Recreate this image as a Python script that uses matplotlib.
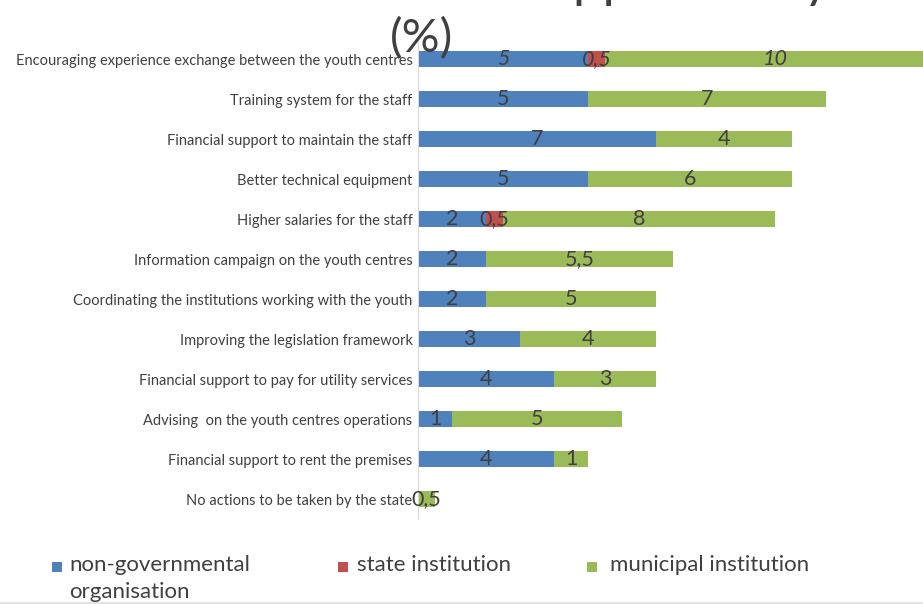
import matplotlib
matplotlib.use("Agg")
import matplotlib.pyplot as plt
from matplotlib.patches import Rectangle

plt.rcParams["font.family"] = ["Lato", "DejaVu Sans"]

categories = [
    "Encouraging experience exchange between the youth centres",
    "Training system for the staff",
    "Financial support to maintain the staff",
    "Better technical equipment",
    "Higher salaries for the staff",
    "Information campaign on the youth centres",
    "Coordinating the institutions working with the youth",
    "Improving the legislation framework",
    "Financial support to pay for utility services",
    "Advising  on the youth centres operations",
    "Financial support to rent the premises",
    "No actions to be taken by the state",
]
ngo = [5, 5, 7, 5, 2, 2, 2, 3, 4, 1, 4, 0]
state = [0.5, 0, 0, 0, 0.5, 0, 0, 0, 0, 0, 0, 0]
municipal = [10, 7, 4, 6, 8, 5.5, 5, 4, 3, 5, 1, 0.5]

series_names = ["non-governmental\norganisation", "state institution", "municipal institution"]
colors = ["#4F81BD", "#C0504D", "#9BBB59"]
label_color = "#3F3F3F"
text_color = "#404040"

W, H = 923, 604
fig = plt.figure(figsize=(W / 100, H / 100), dpi=100)
ax = fig.add_axes([418 / W, 1 - 519 / H, 544 / W, 480 / H])

ypos = list(range(len(categories)))
bar_h = 0.42


def fmt(v):
    return f"{v:g}".replace(".", ",")


lefts = [0] * len(categories)
for vals, col in zip([ngo, state, municipal], colors):
    ax.barh(ypos, vals, left=lefts, height=bar_h, color=col, edgecolor="none")
    for i, (v, l) in enumerate(zip(vals, lefts)):
        if v > 0:
            ax.text(l + v / 2, i, fmt(v), ha="center", va="center",
                    fontsize=15.5, color=label_color,
                    style="italic" if i == 0 else "normal")
    lefts = [a + b for a, b in zip(lefts, vals)]

ax.set_xlim(0, 16)
ax.set_ylim(len(categories) - 0.5, -0.5)
ax.set_yticks(ypos)
ax.set_yticklabels(categories, fontsize=10.5, color=text_color)
ax.tick_params(axis="y", length=0, pad=4)
ax.set_xticks([])
for side in ["top", "right", "bottom"]:
    ax.spines[side].set_visible(False)
ax.spines["left"].set_color("#D9D9D9")
ax.spines["left"].set_linewidth(0.8)

# two-line title; the first line runs off the top edge
fig.text(0.5, 1 + 3 / H,
         "Which actions should the state take to support the youth centres activity",
         ha="center", va="baseline", fontsize=38, color=text_color)
fig.text(422 / W, 1 - 39 / H, "(%)", ha="center", va="center",
         fontsize=34, color=text_color)

# legend drawn by hand so the markers sit on the first text line
legend_box_x = [52, 338, 587]
legend_text_x = [69, 357, 610]
for bx, tx, name, col in zip(legend_box_x, legend_text_x, series_names, colors):
    fig.patches.append(Rectangle((bx / W, 1 - 572 / H), 10 / W, 10 / H,
                                 transform=fig.transFigure, facecolor=col,
                                 edgecolor="none"))
    fig.text(tx / W, 1 - 555 / H, name, ha="left", va="top",
             fontsize=16, color=text_color, linespacing=1.45)

# thin grey strip along the bottom edge
fig.patches.append(Rectangle((0, 0), 1, 2.5 / H, transform=fig.transFigure,
                             facecolor="#E4E4E4", edgecolor="none"))

fig.savefig("out.png", dpi=100)
